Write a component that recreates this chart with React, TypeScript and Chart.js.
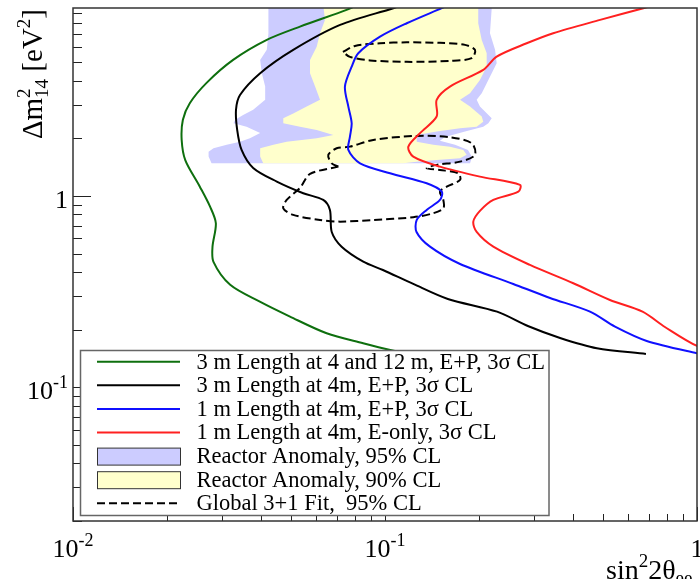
import { useEffect, useRef } from 'react';
import { Chart, registerables } from 'chart.js';

Chart.register(...registerables);

type P = [number, number];

// ---- axis ranges and ticks ----
const xRange: P = [0.01, 1];
const yRange: P = [0.02, 9.6];
const decades = [0.01, 0.1, 1];
const xTickLabels: [number, string, string][] = [
  [0.01, '10', '-2'],
  [0.1, '10', '-1'],
  [1, '1', ''],
];
const yTickLabels: [number, string, string][] = [
  [0.1, '10', '-1'],
  [1, '1', ''],
];

// ---- legend labels ----
const legendLabels = [
  '3 m Length at 4 and 12 m, E+P, 3σ CL',
  '3 m Length at 4m, E+P, 3σ CL',
  '1 m Length at 4m, E+P, 3σ CL',
  '1 m Length at 4m, E-only, 3σ CL',
  'Reactor Anomaly, 95% CL',
  'Reactor Anomaly, 90% CL',
  'Global 3+1 Fit,  95% CL',
];

// ---- series: [sin^2 2theta, dm^2] ----
const green3m412: P[] = [
  [0.081, 9.9], [0.0753, 9.38], [0.0534, 7.67], [0.0418, 6.54], [0.0326, 5.14],
  [0.0268, 3.9], [0.0237, 3.06], [0.0225, 2.5], [0.0223, 1.96], [0.0229, 1.54],
  [0.0255, 1.118], [0.0275, 0.879], [0.0287, 0.72], [0.028, 0.543], [0.0282, 0.452],
  [0.0319, 0.343], [0.0397, 0.28], [0.0496, 0.234], [0.065, 0.1915], [0.0851, 0.17],
  [0.104, 0.1567], [0.129, 0.1457], [0.16, 0.138],
];

const black3m4: P[] = [
  [0.1117, 9.85], [0.1063, 9.58], [0.0718, 7.83], [0.0508, 5.8], [0.0398, 4.38],
  [0.0343, 3.37], [0.0333, 2.82], [0.0336, 2.21], [0.0347, 1.74], [0.0378, 1.4],
  [0.045, 1.188], [0.0547, 1.033], [0.0634, 0.953], [0.0666, 0.845], [0.0675, 0.648],
  [0.0726, 0.543], [0.0852, 0.4535], [0.0985, 0.41], [0.1232, 0.3467], [0.159, 0.2894],
  [0.2286, 0.2484], [0.287, 0.209], [0.364, 0.181], [0.4775, 0.16], [0.686, 0.1493],
];

const blue1mEP: P[] = [
  [0.158, 9.85], [0.152, 9.58], [0.1174, 7.99], [0.0964, 6.8], [0.0821, 5.57],
  [0.0782, 4.74], [0.0744, 3.73], [0.0763, 2.93], [0.0782, 2.4], [0.0772, 2.04],
  [0.0763, 1.74], [0.0832, 1.48], [0.1038, 1.314], [0.136, 1.165], [0.152, 1.053],
  [0.15, 0.953], [0.136, 0.845], [0.1264, 0.749], [0.1262, 0.648], [0.1394, 0.543],
  [0.174, 0.441], [0.2577, 0.3467], [0.338, 0.293], [0.454, 0.2484], [0.546, 0.2074],
  [0.69, 0.1746], [1.0, 0.1506], [1.2, 0.142],
];

const red1mE: P[] = [
  [0.716, 9.85], [0.673, 9.58], [0.489, 8.32], [0.346, 7.09], [0.2845, 6.28],
  [0.228, 5.35], [0.2065, 4.56], [0.1615, 3.73], [0.1464, 3.18], [0.1464, 2.6],
  [0.1295, 2.13], [0.1188, 1.81], [0.1232, 1.605], [0.15, 1.423], [0.2015, 1.262],
  [0.2708, 1.142], [0.2675, 1.053], [0.2224, 0.953], [0.2015, 0.835], [0.1919, 0.734],
  [0.1967, 0.648], [0.2224, 0.543], [0.2915, 0.4358], [0.4014, 0.3497], [0.526, 0.286],
  [0.669, 0.2484], [0.789, 0.2066], [1.0, 0.1644], [1.19, 0.153],
];

const anomaly95: P[] = [
  [0.0423, 10], [0.2198, 10], [0.2198, 9.58], [0.217, 7.09], [0.2253, 5.8], [0.228, 4.94],
  [0.2144, 4.04], [0.2042, 3.44], [0.1967, 3.18], [0.2015, 2.93], [0.2198, 2.55],
  [0.2144, 2.4], [0.2065, 2.3], [0.1805, 2.17], [0.1557, 2.03], [0.15, 1.94],
  [0.1677, 1.85], [0.1845, 1.74], [0.19, 1.6], [0.1873, 1.48], [0.0278, 1.48],
  [0.0272, 1.605], [0.0272, 1.7], [0.0282, 1.775], [0.0311, 1.85], [0.0343, 1.92],
  [0.0369, 2.0], [0.0398, 2.13], [0.036, 2.3], [0.0327, 2.4], [0.0331, 2.5],
  [0.0351, 2.65], [0.0378, 2.82], [0.0413, 3.18], [0.0413, 3.73], [0.0403, 4.38],
  [0.0398, 5.14], [0.0418, 5.8], [0.0423, 7.09], [0.0423, 10],
];

const anomaly90: P[] = [
  [0.0634, 10], [0.199, 10], [0.199, 7.99], [0.2042, 6.54], [0.2118, 5.57], [0.2118, 4.74],
  [0.2015, 4.04], [0.1873, 3.44], [0.174, 3.18], [0.1873, 2.93], [0.2042, 2.6],
  [0.2065, 2.445], [0.1967, 2.3], [0.174, 2.26], [0.1464, 2.17], [0.1264, 2.08],
  [0.1264, 1.92], [0.1428, 1.85], [0.1615, 1.81], [0.1782, 1.74], [0.1827, 1.64],
  [0.174, 1.575], [0.1464, 1.54], [0.1264, 1.51], [0.1145, 1.48], [0.0407, 1.48],
  [0.0398, 1.605], [0.0398, 1.775], [0.0439, 1.85], [0.0484, 1.92], [0.0604, 2.0],
  [0.0683, 2.08], [0.0604, 2.21], [0.0534, 2.3], [0.0472, 2.4], [0.0472, 2.55],
  [0.0508, 2.7], [0.0561, 2.93], [0.0619, 3.18], [0.0597, 3.73], [0.0575, 4.38],
  [0.0575, 5.14], [0.0604, 6.03], [0.0619, 7.09], [0.0642, 8.32], [0.0634, 10],
];

const globalFitUpper: P[] = [
  [0.0733, 5.66], [0.0801, 6.08], [0.0964, 6.28], [0.1174, 6.35], [0.15, 6.31],
  [0.1805, 6.16], [0.1943, 5.8], [0.1896, 5.25], [0.1615, 5.08], [0.1174, 5.02],
  [0.0895, 5.11], [0.0772, 5.33], [0.0733, 5.66],
];

const globalFitLower: P[] = [
  [0.0709, 1.423], [0.0675, 1.48], [0.0658, 1.638], [0.07, 1.775], [0.0772, 1.81],
  [0.0917, 1.962], [0.1264, 2.06], [0.1615, 2.027], [0.1896, 1.886], [0.1943, 1.638],
  [0.174, 1.511], [0.1464, 1.453], [0.136, 1.396], [0.15, 1.367], [0.1718, 1.314],
  [0.174, 1.212], [0.1577, 1.118], [0.15, 1.053], [0.1538, 0.953], [0.1538, 0.862],
  [0.1428, 0.812], [0.1232, 0.774], [0.0917, 0.749], [0.0718, 0.734], [0.0619, 0.749],
  [0.0508, 0.796], [0.0472, 0.862], [0.0484, 0.953], [0.0534, 1.101], [0.0575, 1.303],
  [0.0709, 1.423],
];

const FONT = '"Liberation Serif", "Times New Roman", serif';
const mk = (arr: P[]) => arr.map(([x, y]) => ({ x, y }));

function drawPow(
  ctx: CanvasRenderingContext2D, base: string, exp: string, x: number, y: number,
  align: 'left' | 'right' | 'center', big: number, small: number, raise: number,
) {
  ctx.font = `${big}px ${FONT}`;
  const wb = ctx.measureText(base).width;
  ctx.font = `${small}px ${FONT}`;
  const we = exp ? ctx.measureText(exp).width : 0;
  const total = wb + we;
  const x0 = align === 'right' ? x - total : align === 'center' ? x - total / 2 : x;
  ctx.textAlign = 'left';
  ctx.textBaseline = 'alphabetic';
  ctx.font = `${big}px ${FONT}`;
  ctx.fillText(base, x0, y);
  if (exp) {
    ctx.font = `${small}px ${FONT}`;
    ctx.fillText(exp, x0 + wb, y - raise);
  }
}

const rootStylePlugin = {
  id: 'rootStyle',
  afterDraw(chart: any) {
    const ctx: CanvasRenderingContext2D = chart.ctx;
    const xs = chart.scales.x;
    const ys = chart.scales.y;
    const { left, right, top, bottom } = chart.chartArea;
    ctx.save();

    // ticks
    ctx.strokeStyle = '#222';
    ctx.lineWidth = 1;
    ctx.beginPath();
    for (const d of decades) {
      for (let m = 1; m <= 9; m++) {
        const v = m * d;
        if (v >= yRange[0] * 0.999 && v <= yRange[1] * 1.001) {
          const py = Math.round(ys.getPixelForValue(v)) + 0.5;
          const len = m === 1 ? 18 : 9;
          ctx.moveTo(left, py);
          ctx.lineTo(left + len, py);
        }
        if (v >= xRange[0] * 0.999 && v <= xRange[1] * 1.001) {
          const px = Math.round(xs.getPixelForValue(v)) + 0.5;
          const len = m === 1 ? 14 : 7;
          ctx.moveTo(px, bottom);
          ctx.lineTo(px, bottom - len);
        }
      }
    }
    ctx.stroke();

    // frame
    ctx.strokeStyle = '#333';
    ctx.lineWidth = 1.5;
    ctx.strokeRect(left, top, right - left, bottom - top);

    // tick labels
    ctx.fillStyle = '#000';
    for (const [v, b, e] of yTickLabels) {
      const py = ys.getPixelForValue(v);
      drawPow(ctx, b, e, left - 5, py + 12, 'right', 26, 18, 11);
    }
    for (const [v, b, e] of xTickLabels) {
      const px = xs.getPixelForValue(v);
      drawPow(ctx, b, e, px, 557, 'center', 26, 18, 11);
    }

    // x title: sin^2 2theta_ee
    {
      let x = 606;
      const y = 579;
      ctx.textAlign = 'left';
      ctx.textBaseline = 'alphabetic';
      ctx.font = `28px ${FONT}`;
      ctx.fillText('sin', x, y);
      x += ctx.measureText('sin').width;
      ctx.font = `19px ${FONT}`;
      ctx.fillText('2', x, y - 12);
      x += ctx.measureText('2').width;
      ctx.font = `28px ${FONT}`;
      ctx.fillText('2θ', x, y);
      x += ctx.measureText('2θ').width;
      ctx.font = `19px ${FONT}`;
      ctx.fillText('ee', x, y + 5);
    }

    // y title: Δm^2_14 [eV^2]
    {
      const big = 29;
      const small = 19;
      const parts: { t: string; s: number; dy: number; stackWith?: string }[] = [
        { t: 'Δm', s: big, dy: 0 },
        { t: '2', s: small, dy: -12, stackWith: '14' },
        { t: ' [eV', s: big, dy: 0 },
        { t: '2', s: small, dy: -12 },
        { t: ']', s: big, dy: 0 },
      ];
      const widths = parts.map((p) => {
        ctx.font = `${p.s}px ${FONT}`;
        let w = ctx.measureText(p.t).width;
        if (p.stackWith) w = Math.max(w, ctx.measureText(p.stackWith).width);
        return w;
      });
      const total = widths.reduce((a, b) => a + b, 0);
      ctx.save();
      ctx.translate(42, 9);
      ctx.rotate(-Math.PI / 2);
      let x = -total;
      parts.forEach((p, i) => {
        ctx.font = `${p.s}px ${FONT}`;
        ctx.fillText(p.t, x, p.dy);
        if (p.stackWith) ctx.fillText(p.stackWith, x, 6);
        x += widths[i];
      });
      ctx.restore();
    }

    // legend
    const lx0 = 80.5, ly0 = 350.5, lx1 = 549, ly1 = 515.5;
    ctx.fillStyle = '#fff';
    ctx.fillRect(lx0, ly0, lx1 - lx0, ly1 - ly0);
    ctx.strokeStyle = '#666';
    ctx.lineWidth = 1.5;
    ctx.strokeRect(lx0, ly0, lx1 - lx0, ly1 - ly0);
    const dsets = chart.data.datasets;
    legendLabels.forEach((label, i) => {
      const ds = dsets[i];
      const cy = 361.7 + i * 23.6;
      if (ds.fill) {
        ctx.fillStyle = ds.backgroundColor;
        ctx.fillRect(97.5, cy - 8, 83, 17);
        ctx.strokeStyle = '#333';
        ctx.lineWidth = 1;
        ctx.strokeRect(97.5, cy - 8, 83, 17);
      } else {
        ctx.strokeStyle = ds.borderColor;
        ctx.lineWidth = ds.borderWidth;
        ctx.setLineDash(ds.borderDash || []);
        ctx.beginPath();
        ctx.moveTo(97, cy);
        ctx.lineTo(180, cy);
        ctx.stroke();
        ctx.setLineDash([]);
      }
      ctx.fillStyle = '#000';
      ctx.font = `22.5px ${FONT}`;
      ctx.textAlign = 'left';
      ctx.textBaseline = 'middle';
      ctx.fillText(label, 196.5, cy + 1);
    });

    ctx.restore();
  },
};

export default function App() {
  const canvasRef = useRef<HTMLCanvasElement | null>(null);

  useEffect(() => {
    if (!canvasRef.current) return;
    const lineDs = (label: string, data: P[], color: string, order: number, dash?: number[]) => ({
      label,
      data: mk(data),
      borderColor: color,
      backgroundColor: color,
      borderWidth: 2,
      borderDash: dash,
      fill: false,
      tension: 0.3,
      order,
    });
    const fillDs = (label: string, data: P[], color: string, order: number) => ({
      label,
      data: mk(data),
      borderColor: 'rgba(0,0,0,0)',
      backgroundColor: color,
      borderWidth: 0,
      fill: 'shape',
      tension: 0,
      order,
    });
    const chart = new Chart(canvasRef.current, {
      type: 'line',
      data: {
        datasets: [
          lineDs(legendLabels[0], green3m412, '#0e6f0e', 1),
          lineDs(legendLabels[1], black3m4, '#000000', 1),
          lineDs(legendLabels[2], blue1mEP, '#1010ff', 1),
          lineDs(legendLabels[3], red1mE, '#ff2020', 1),
          fillDs(legendLabels[4], anomaly95, '#ccccff', 10),
          fillDs(legendLabels[5], anomaly90, '#ffffcc', 9),
          lineDs(legendLabels[6], globalFitUpper, '#000000', 2, [8, 4]),
          lineDs('', globalFitLower, '#000000', 2, [8, 4]),
        ] as any,
      },
      options: {
        animation: false,
        responsive: false,
        events: [],
        elements: { point: { radius: 0 } },
        layout: { padding: { left: 73, top: 8, right: 3, bottom: 58 } },
        plugins: { legend: { display: false }, tooltip: { enabled: false } },
        scales: {
          x: { type: 'logarithmic', min: xRange[0], max: xRange[1], display: false },
          y: { type: 'logarithmic', min: yRange[0], max: yRange[1], display: false },
        },
      } as any,
      plugins: [rootStylePlugin],
    });
    return () => chart.destroy();
  }, []);

  return (
    <div style={{ position: 'fixed', left: 0, top: 0, width: 700, height: 579, background: '#fff' }}>
      <canvas ref={canvasRef} width={700} height={579} style={{ display: 'block', width: 700, height: 579 }} />
    </div>
  );
}
